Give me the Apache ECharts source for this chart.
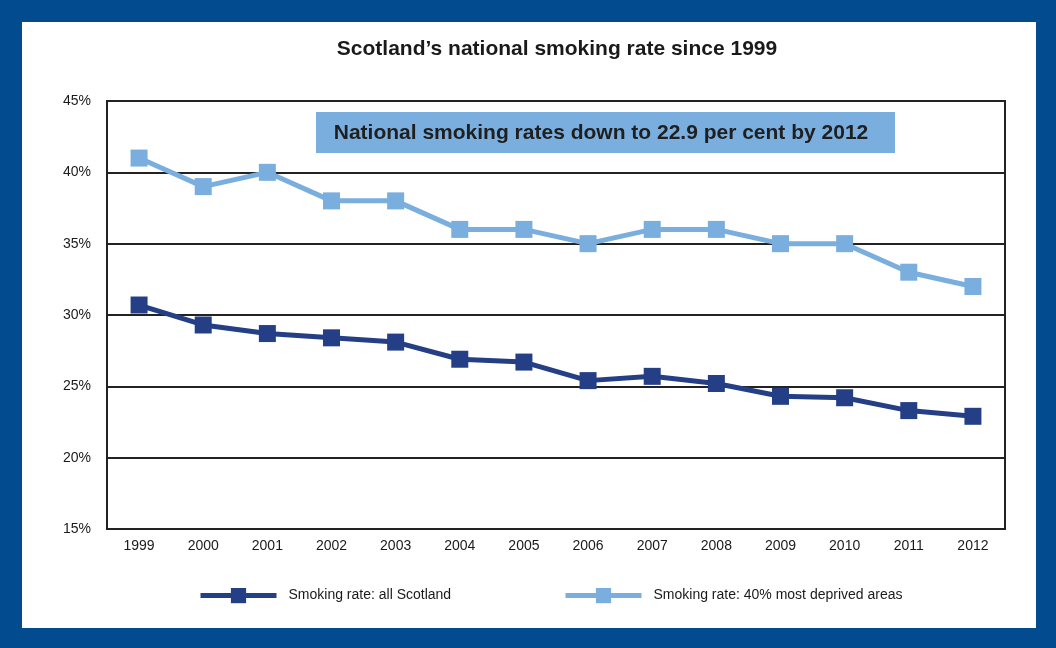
<!DOCTYPE html>
<html>
<head>
<meta charset="utf-8">
<script src="https://cdn.jsdelivr.net/npm/echarts@6/dist/echarts.min.js"></script>
<style>
  html, body { margin: 0; padding: 0; background: #024b8e; }
  #chart { width: 1056px; height: 648px; }
</style>
</head>
<body>
<div id="chart"></div>
<script>
const years = ['1999','2000','2001','2002','2003','2004','2005','2006','2007','2008','2009','2010','2011','2012'];
const allScotland = [30.7, 29.3, 28.7, 28.4, 28.1, 26.9, 26.7, 25.4, 25.7, 25.2, 24.3, 24.2, 23.3, 22.9];
const deprived = [41, 39, 40, 38, 38, 36, 36, 35, 36, 36, 35, 35, 33, 32];
const seriesNames = ['Smoking rate: all Scotland', 'Smoking rate: 40% most deprived areas'];
const titleText = 'Scotland\u2019s national smoking rate since 1999';
const noteText = 'National smoking rates down to 22.9 per cent by 2012';

const dark = '#253f86';
const light = '#7aaede';
const narrow = '"Liberation Sans Narrow", "Arial Narrow", "Liberation Sans", sans-serif';

const chart = echarts.init(document.getElementById('chart'));
const legendCommon = {
  top: 588, padding: 0, itemWidth: 76, itemHeight: 19, itemGap: 12,
  lineStyle: { width: 5 },
  textStyle: { fontFamily: narrow, fontSize: 14, color: '#1a1a1a', padding: [0, 0, 0, 7] }
};
chart.setOption({
  backgroundColor: '#024b8e',
  animation: false,
  graphic: [
    { type: 'rect', z: -10, shape: { x: 22, y: 22, width: 1014, height: 606 }, style: { fill: '#ffffff' } },
    { type: 'text', z: 11, x: 557, y: 49, style: { text: titleText, fill: '#1a1a1a', font: 'bold 21px "Liberation Sans", Arial, sans-serif', align: 'center', verticalAlign: 'middle' } },
    { type: 'rect', z: 10, shape: { x: 316, y: 112, width: 579, height: 41 }, style: { fill: light } },
    { type: 'text', z: 11, x: 601, y: 133, style: { text: noteText, fill: '#1f1f1f', font: 'bold 21px "Liberation Sans", Arial, sans-serif', align: 'center', verticalAlign: 'middle' } }
  ],
  legend: [
    Object.assign({ data: [seriesNames[0]], left: 198 }, legendCommon),
    Object.assign({ data: [seriesNames[1]], left: 563 }, legendCommon)
  ],
  grid: { left: 107, right: 51, top: 101, bottom: 119, show: true, borderColor: '#222', borderWidth: 2, backgroundColor: 'transparent' },
  xAxis: {
    type: 'category',
    data: years,
    boundaryGap: true,
    axisLine: { lineStyle: { color: '#222', width: 2 } },
    axisTick: { inside: true, length: 9, lineStyle: { color: '#222', width: 2 } },
    axisLabel: { fontFamily: narrow, fontSize: 14, color: '#1a1a1a', margin: 10 },
    splitLine: { show: false }
  },
  yAxis: {
    type: 'value',
    min: 15, max: 45, interval: 5,
    axisLine: { show: true, lineStyle: { color: '#222', width: 2 } },
    axisTick: { show: false },
    axisLabel: { formatter: '{value}%', fontFamily: narrow, fontSize: 14, color: '#1a1a1a', margin: 16 },
    splitLine: { lineStyle: { color: '#222', width: 2 } }
  },
  series: [
    {
      name: seriesNames[0], type: 'line', data: allScotland,
      symbol: 'rect', symbolSize: 17,
      lineStyle: { color: dark, width: 5 },
      itemStyle: { color: dark },
      z: 3
    },
    {
      name: seriesNames[1], type: 'line', data: deprived,
      symbol: 'rect', symbolSize: 17,
      lineStyle: { color: light, width: 5 },
      itemStyle: { color: light },
      z: 3
    }
  ]
});
</script>
</body>
</html>
